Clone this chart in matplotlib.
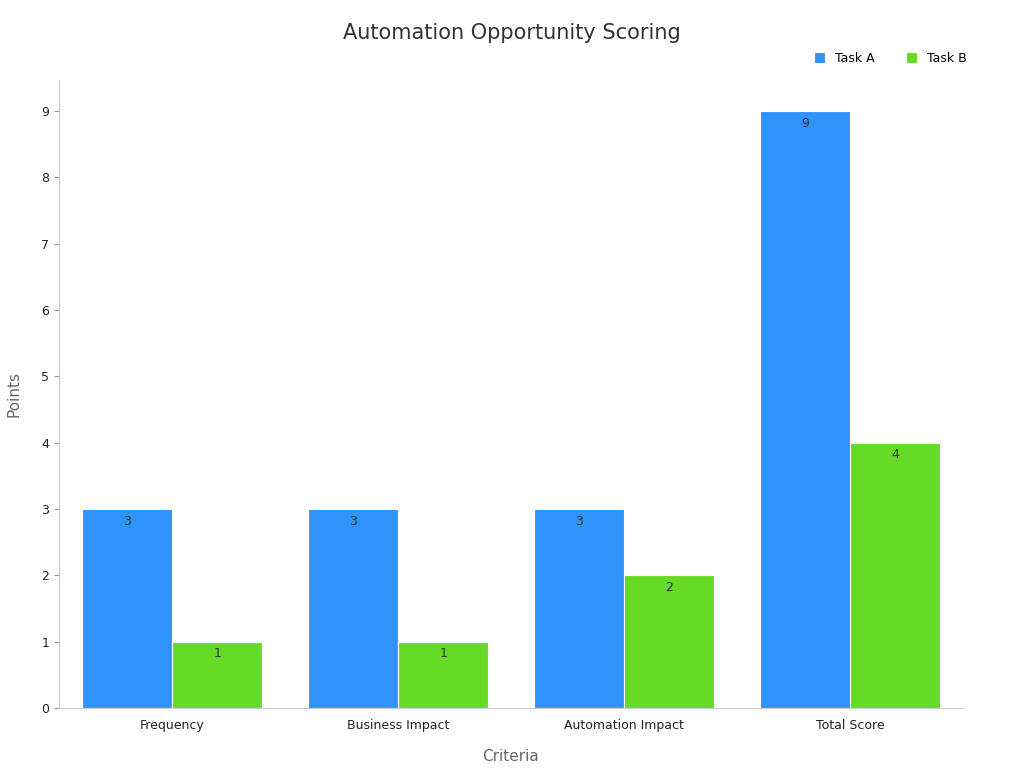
import matplotlib
matplotlib.use("Agg")
import matplotlib.pyplot as plt
import numpy as np

CATEGORIES = ["Frequency", "Business Impact", "Automation Impact", "Total Score"]
TASK_A = [3, 3, 3, 9]
TASK_B = [1, 1, 2, 4]

BLUE = "#2E93FA"
GREEN = "#66DA26"

fig = plt.figure(figsize=(10.24, 7.68), dpi=100)
ax = fig.add_axes([0.0576, 0.078, 0.8828, 0.818])

x = np.arange(len(CATEGORIES))
w = 0.4
ba = ax.bar(x - w / 2, TASK_A, w, color=BLUE, edgecolor="white", linewidth=0.8, label="Task A")
bb = ax.bar(x + w / 2, TASK_B, w, color=GREEN, edgecolor="white", linewidth=0.8, label="Task B")

for bars in (ba, bb):
    for b in bars:
        ax.annotate(f"{b.get_height():g}", (b.get_x() + b.get_width() / 2, b.get_height()),
                    xytext=(0, -4), textcoords="offset points", ha="center", va="top",
                    fontsize=9, color="#333333")

ax.set_xlim(-0.5, 3.5)
ax.set_ylim(0, 9.47)
ax.set_yticks(range(10))
ax.set_xticks(x)
ax.set_xticklabels(CATEGORIES)
ax.tick_params(labelsize=9, colors="#222222")
ax.tick_params(axis="x", length=0, pad=8)
ax.tick_params(axis="y", color="#999999")
for s in ("top", "right"):
    ax.spines[s].set_visible(False)
for s in ("left", "bottom"):
    ax.spines[s].set_color("#cccccc")

ax.set_xlabel("Criteria", fontsize=11, color="#666666", labelpad=12)
ax.set_ylabel("Points", fontsize=11, color="#666666", labelpad=14)
fig.suptitle("Automation Opportunity Scoring", fontsize=15, color="#333333", y=0.97)

fig.legend(handles=[ba, bb], loc="upper right", bbox_to_anchor=(0.955, 0.947), ncol=2,
           frameon=False, fontsize=9, handlelength=0.9, handleheight=0.9, columnspacing=2.5)

fig.savefig("out.png", dpi=100)
